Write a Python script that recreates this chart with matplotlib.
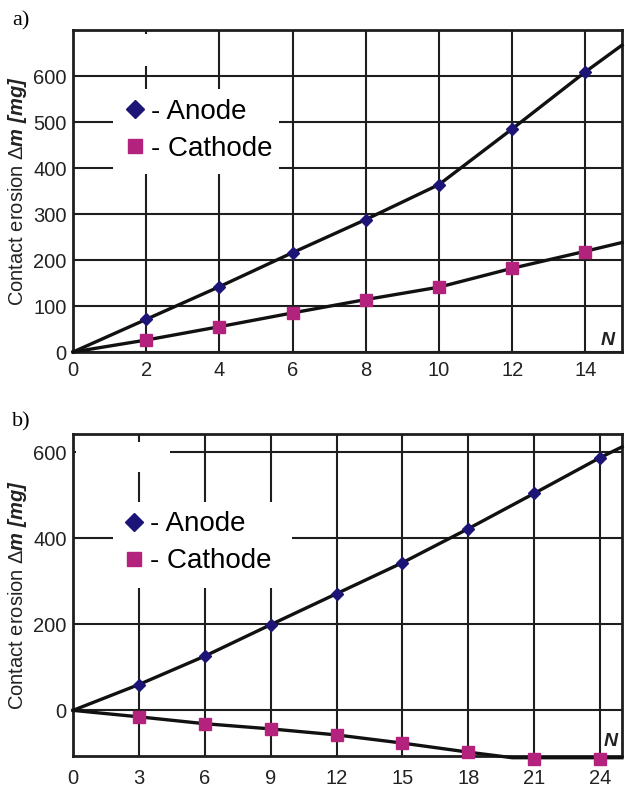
import matplotlib
matplotlib.use("Agg")
import matplotlib.pyplot as plt
from matplotlib.patches import Rectangle
from matplotlib.lines import Line2D

plt.rcParams['font.family'] = ['Liberation Sans', 'DejaVu Sans']
plt.rcParams['mathtext.fontset'] = 'custom'
plt.rcParams['mathtext.rm'] = 'Liberation Sans'
plt.rcParams['mathtext.it'] = 'Liberation Sans:italic'
plt.rcParams['mathtext.bf'] = 'Liberation Sans:bold:italic'

# ---------------- data: panel a ----------------
a_N = [2, 4, 6, 8, 10, 12, 14]
a_anode = [71, 142, 216, 288, 364, 485, 609]
a_cathode = [26, 55, 85, 114, 141, 182, 218]
a_anode_line_N = [0, 2, 4, 6, 8, 10, 12, 14, 15]
a_anode_line = [0, 71, 142, 216, 288, 364, 485, 609, 667]
a_cathode_line_N = [0, 2, 4, 6, 8, 10, 12, 14, 15]
a_cathode_line = [0, 26, 55, 85, 114, 141, 182, 219, 238]
a_xticks = [0, 2, 4, 6, 8, 10, 12, 14]
a_yticks = [0, 100, 200, 300, 400, 500, 600]

# ---------------- data: panel b ----------------
b_N = [3, 6, 9, 12, 15, 18, 21, 24]
b_anode = [60, 126, 199, 271, 343, 422, 504, 587]
b_cathode = [-15, -31, -43, -57, -76, -97, -113, -113]
b_anode_line_N = [0, 3, 6, 9, 12, 15, 18, 21, 24, 25]
b_anode_line = [0, 60, 126, 199, 271, 343, 422, 504, 587, 612]
b_cathode_line_N = [0, 3, 6, 9, 12, 15, 18, 20, 25]
b_cathode_line = [0, -15, -31, -43, -57, -76, -97, -110, -110]
b_xticks = [0, 3, 6, 9, 12, 15, 18, 21, 24]
b_yticks = [0, 200, 400, 600]

anode_color = '#1d1478'
cathode_color = '#b3237d'
grid_color = '#1e1e1e'

fig = plt.figure(figsize=(6.25, 7.87), dpi=100)
W, H = 625, 787

def px_axes(left, top, right, bottom):
    return fig.add_axes([left / W, 1 - bottom / H, (right - left) / W, (bottom - top) / H])

ax1 = px_axes(73, 30, 622, 352)
ax2 = px_axes(73, 434, 622, 756)

def style(ax, xlim, ylim, xticks, yticks, xpad):
    ax.set_xlim(*xlim)
    ax.set_ylim(*ylim)
    ax.set_xticks(xticks)
    ax.set_yticks(yticks)
    ax.set_axisbelow(True)
    ax.grid(True, color=grid_color, linewidth=1.5)
    ax.tick_params(length=0, labelsize=14.5, colors='#222222', pad=4.5)
    ax.tick_params(axis='x', pad=xpad)
    for s in ax.spines.values():
        s.set_linewidth(2.0)
        s.set_color('#1e1e1e')
    ax.set_ylabel(r'Contact erosion $\Delta\mathbf{m\ [mg]}$', fontsize=14.5,
                  color='#222222', labelpad=3)

style(ax1, (0, 15), (0, 700), a_xticks, a_yticks, 6.5)
style(ax2, (0, 25), (-106, 642), b_xticks, b_yticks, 9)

def white_box(ax, x0, y0, x1, y1, left, top, right, bottom):
    # pixel box converted to axes fraction
    fx0 = (x0 - left) / (right - left)
    fx1 = (x1 - left) / (right - left)
    fy0 = (bottom - y1) / (bottom - top)
    fy1 = (bottom - y0) / (bottom - top)
    ax.add_patch(Rectangle((fx0, fy0), fx1 - fx0, fy1 - fy0, transform=ax.transAxes,
                           facecolor='white', edgecolor='none', zorder=1))

white_box(ax1, 113, 89, 279, 174, 73, 30, 622, 352)
white_box(ax1, 76, 34, 205, 66, 73, 30, 622, 352)
white_box(ax2, 113, 502, 292, 588, 73, 434, 622, 756)
white_box(ax2, 76, 442, 170, 472, 73, 434, 622, 756)

for ax, N, an, ca, aln, al, cln, cl in [
        (ax1, a_N, a_anode, a_cathode, a_anode_line_N, a_anode_line, a_cathode_line_N, a_cathode_line),
        (ax2, b_N, b_anode, b_cathode, b_anode_line_N, b_anode_line, b_cathode_line_N, b_cathode_line)]:
    ax.plot(aln, al, color='#111111', linewidth=2.4, zorder=3, clip_on=False)
    ax.plot(cln, cl, color='#111111', linewidth=2.4, zorder=3, clip_on=False)
    ax.plot(N, an, linestyle='none', marker='D', markersize=6.5, color=anode_color, zorder=4,
            clip_on=False)
    ax.plot(N, ca, linestyle='none', marker='s', markersize=8.5, color=cathode_color, zorder=4,
            clip_on=False)
    handles = [Line2D([], [], linestyle='none', marker='D', markersize=9, color=anode_color),
               Line2D([], [], linestyle='none', marker='s', markersize=10.5, color=cathode_color)]
    leg = ax.legend(handles, ['- Anode', '- Cathode'], loc='upper left', frameon=False,
                    fontsize=20, handlelength=0.8, handletextpad=0.2, labelspacing=0.4,
                    borderaxespad=0, borderpad=0)
    leg.set_zorder(5)

# legend placement (axes fraction)
ax1.get_legend().set_bbox_to_anchor((0.092, 0.786), transform=ax1.transAxes)
ax2.get_legend().set_bbox_to_anchor((0.090, 0.760), transform=ax2.transAxes)

ax1.text(0.974, 0.037, 'N', transform=ax1.transAxes, ha='center', va='center',
         fontsize=14, fontweight='bold', fontstyle='italic', color='#222222', zorder=6)
ax2.text(0.98, 0.045, 'N', transform=ax2.transAxes, ha='center', va='center',
         fontsize=14, fontweight='bold', fontstyle='italic', color='#222222', zorder=6)

fig.text(12 / W, 1 - 25 / H, 'a)', family='Liberation Serif', fontsize=16, ha='left',
         va='baseline')
fig.text(12 / W, 1 - 426 / H, 'b)', family='Liberation Serif', fontsize=16, ha='left',
         va='baseline')

fig.savefig('out.png', dpi=100)
